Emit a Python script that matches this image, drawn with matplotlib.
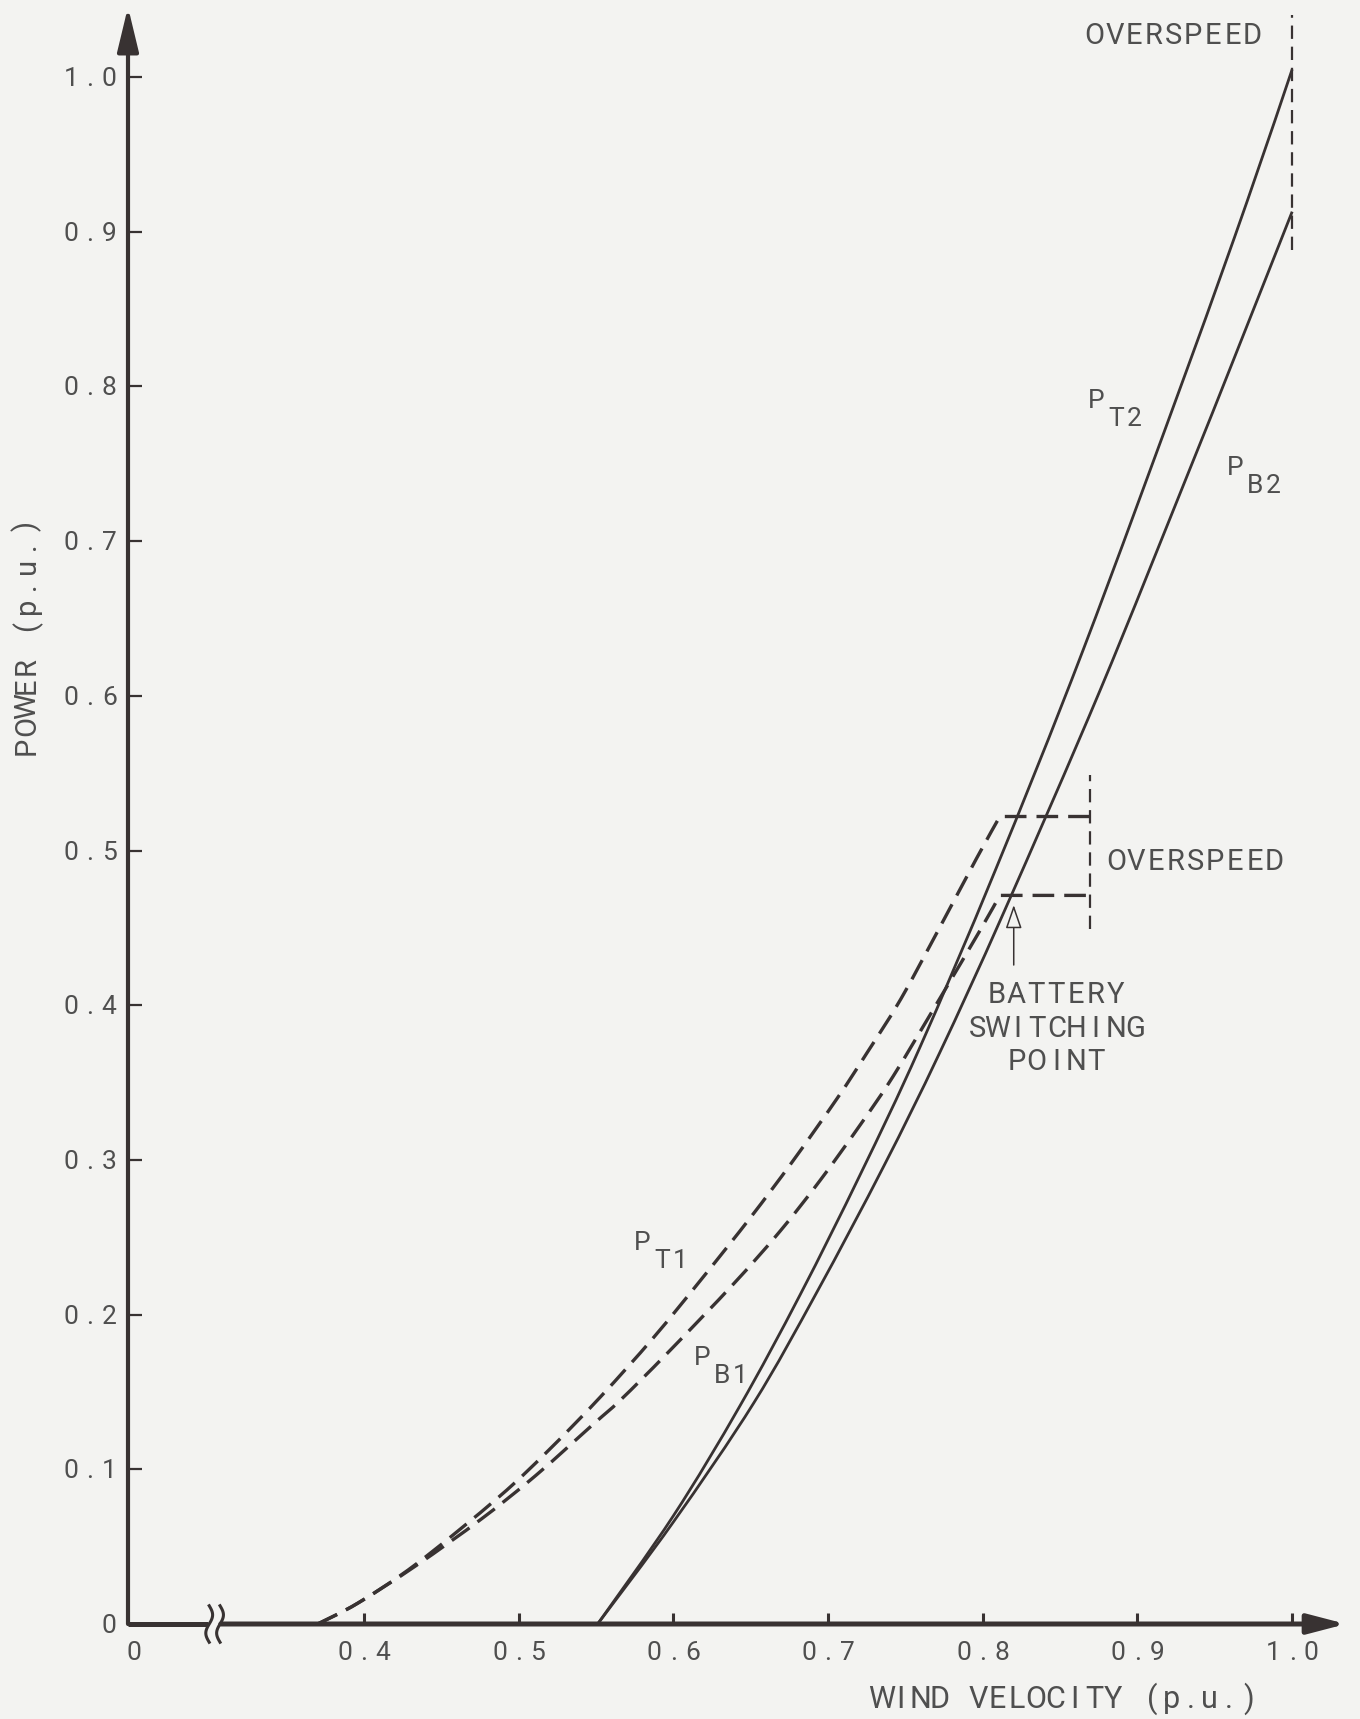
import numpy as np
import matplotlib.pyplot as plt
from matplotlib.path import Path
from matplotlib.patches import PathPatch

# readings, wind velocity / power in p.u.
vel_t1 = [0.370, 0.396, 0.434, 0.487, 0.519, 0.553, 0.587, 0.619, 0.650, 0.677,
          0.706, 0.725, 0.747, 0.772, 0.796, 0.811, 0.869]
pow_t1 = [0.000, 0.0135, 0.039, 0.082, 0.112, 0.147, 0.185, 0.224, 0.263, 0.299,
          0.340, 0.369, 0.404, 0.450, 0.495, 0.522, 0.522]

vel_b1 = [0.370, 0.396, 0.434, 0.476, 0.511, 0.548, 0.566, 0.596, 0.639, 0.669,
          0.695, 0.721, 0.742, 0.772, 0.798, 0.811, 0.869]
pow_b1 = [0.000, 0.0135, 0.038, 0.068, 0.096, 0.129, 0.145, 0.175, 0.220, 0.254,
          0.287, 0.323, 0.354, 0.404, 0.448, 0.471, 0.471]

vel_t2 = [0.551, 0.600, 0.643, 0.682, 0.721, 0.759, 0.808, 0.865, 0.932, 0.971, 1.000]
pow_t2 = [0.000, 0.070, 0.141, 0.213, 0.291, 0.372, 0.487, 0.630, 0.811, 0.920, 1.005]

vel_b2 = [0.551, 0.600, 0.652, 0.693, 0.736, 0.772, 0.814, 0.876, 0.932, 0.962, 1.000]
pow_b2 = [0.000, 0.066, 0.143, 0.215, 0.296, 0.369, 0.461, 0.604, 0.742, 0.817, 0.913]

x_ticks = [0.4, 0.5, 0.6, 0.7, 0.8, 0.9, 1.0]
x_tick_labels = ["0.4", "0.5", "0.6", "0.7", "0.8", "0.9", "1.0"]
y_ticks = [0.0, 0.1, 0.2, 0.3, 0.4, 0.5, 0.6, 0.7, 0.8, 0.9, 1.0]
y_tick_labels = ["0", "0.1", "0.2", "0.3", "0.4", "0.5", "0.6", "0.7", "0.8", "0.9", "1.0"]

# overspeed markers: velocity and power extent
overspeed_1_vel = 0.869
overspeed_1_pow = [0.449, 0.549]
overspeed_2_vel = 1.0
overspeed_2_pow = [0.888, 1.040]
switch_vel = 0.820
switch_pow = [0.426, 0.4648]

# axis extent (x axis is broken, left end labelled 0)
X0, X1 = 0.2474, 1.0348
Y0, Y1 = 0.0, 1.0453
BREAK = 0.3034

BG = '#f3f3f1'
INK = '#383232'
TXT = '#4f4f4f'

plt.rcParams['font.family'] = ['Roboto', 'DejaVu Sans']

fig = plt.figure(figsize=(13.6, 17.19), dpi=100, facecolor=BG)
ax = fig.add_axes([128 / 1360, 95 / 1719, 1218 / 1360, 1617 / 1719])
ax.set_facecolor(BG)
ax.set_xlim(X0, X1)
ax.set_ylim(Y0, Y1)
for s in ax.spines.values():
    s.set_visible(False)

ax.set_xticks(x_ticks)
ax.set_yticks(y_ticks)
ax.tick_params(axis='y', direction='in', length=10, width=1.6, color=INK,
               labelleft=False)
ax.tick_params(axis='x', direction='in', length=8, width=2.2, color=INK,
               labelbottom=False)

# axes drawn by hand: arrows + broken x axis
ax.annotate('', xy=(X0, Y1), xytext=(X0, Y0), annotation_clip=False,
            arrowprops=dict(arrowstyle='-|>,head_length=2.7,head_width=0.65',
                            mutation_scale=10, lw=3.0, color=INK,
                            shrinkA=0, shrinkB=0))
ax.plot([X0, BREAK - 0.004], [0, 0], color=INK, lw=3.6, clip_on=False,
        solid_capstyle='butt')
ax.annotate('', xy=(X1, 0), xytext=(BREAK + 0.004, 0), annotation_clip=False,
            arrowprops=dict(arrowstyle='-|>,head_length=2.3,head_width=0.6',
                            mutation_scale=10, lw=3.6, color=INK,
                            shrinkA=0, shrinkB=0))
t = np.linspace(-1, 1, 40)
for bx in (BREAK - 0.0035, BREAK + 0.0035):
    ax.plot(bx + 0.0022 * np.sin(np.pi * t), 0.0118 * t, color=INK, lw=2.2,
            clip_on=False)


def smooth_curve(xs, ys, n_flat=0, **kw):
    # catmull-rom style bezier through the read points,
    # last n_flat points joined with straight segments
    p = np.column_stack([xs, ys])
    m = len(p) - n_flat
    verts = [p[0]]
    codes = [Path.MOVETO]
    for i in range(m - 1):
        a = p[max(i - 1, 0)]
        b = p[min(i + 2, m - 1)]
        c1 = p[i] + (p[i + 1] - a) / 6
        c2 = p[i + 1] - (b - p[i]) / 6
        verts += [c1, c2, p[i + 1]]
        codes += [Path.CURVE4] * 3
    for q in p[m:]:
        verts.append(q)
        codes.append(Path.LINETO)
    ax.add_patch(PathPatch(Path(verts, codes), fill=False, **kw))


# curves
dash = (0, (6.5, 3))
smooth_curve(vel_t1, pow_t1, n_flat=1, ec=INK, lw=2.4, ls=dash, joinstyle='miter')
smooth_curve(vel_b1, pow_b1, n_flat=1, ec=INK, lw=2.4, ls=dash, joinstyle='miter')
smooth_curve(vel_t2, pow_t2, ec=INK, lw=2.0)
smooth_curve(vel_b2, pow_b2, ec=INK, lw=2.0)

ax.plot([overspeed_1_vel] * 2, overspeed_1_pow, color=INK, lw=1.6, dashes=(6, 3.5))
ax.plot([overspeed_2_vel] * 2, overspeed_2_pow, color=INK, lw=1.6, dashes=(6, 3.5),
        clip_on=False)

ax.annotate('', xy=(switch_vel, switch_pow[1]), xytext=(switch_vel, switch_pow[0]),
            arrowprops=dict(arrowstyle='-|>,head_length=1.45,head_width=0.5',
                            mutation_scale=10, lw=1.1, ec=INK, fc=BG,
                            shrinkA=0, shrinkB=0))


def spaced(x, y, s, size, pitch, rot=0, dx=0.0, dy=0.0, align='center'):
    # typewriter-style lettering, one char per cell
    n = len(s)
    for i, c in enumerate(s):
        if c == ' ':
            continue
        k = i - (n - 1) if align == 'right' else i - (n - 1) / 2
        off = k * pitch
        xt = (dx, dy + off) if rot else (dx + off, dy)
        ax.annotate(c, (x, y), xytext=xt, textcoords='offset points',
                    ha='center', va='baseline', rotation=rot,
                    rotation_mode='anchor', fontsize=size, color=TXT,
                    annotation_clip=False)


def psub(x, y, sub, size=19):
    ax.annotate('P', (x, y), ha='center', va='baseline', fontsize=size,
                color=TXT, annotation_clip=False)
    for i, c in enumerate(sub):
        ax.annotate(c, (x, y), xytext=(14.4 + i * 12.8, -13),
                    textcoords='offset points', ha='center', va='baseline',
                    fontsize=size, color=TXT, annotation_clip=False)


# tick labels, spaced like the typed originals
for v, lab in zip(y_ticks, y_tick_labels):
    spaced(X0, v, lab, 19, 13.8, dx=-13.5, dy=-6.5, align='right')
for v, lab in zip(x_ticks, x_tick_labels):
    spaced(v, 0, lab, 19, 13.8, dy=-26)
spaced(X0, 0, "0", 19, 13.8, dx=4.3, dy=-26)

spaced(0.9233, 1.0213, "OVERSPEED", 21, 14.2)
spaced(0.9375, 0.4874, "OVERSPEED", 21, 14.2)
spaced(0.8473, 0.4014, "BATTERY", 21, 14.2)
spaced(0.8476, 0.3794, "SWITCHING", 21, 14.2)
spaced(0.8476, 0.3581, "POINT", 21, 14.2)

psub(0.580, 0.2418, "T1")
psub(0.6188, 0.1674, "B1")
psub(0.8732, 0.7861, "T2")
psub(0.963, 0.7427, "B2")

spaced(0.1873, 0.6387, "POWER (p.u.)", 21, 14.4, rot=90)
spaced(0.8531, -0.0543, "WIND VELOCITY (p.u.)", 22, 13.9)

fig.savefig('out.png', dpi=100, facecolor=BG)
